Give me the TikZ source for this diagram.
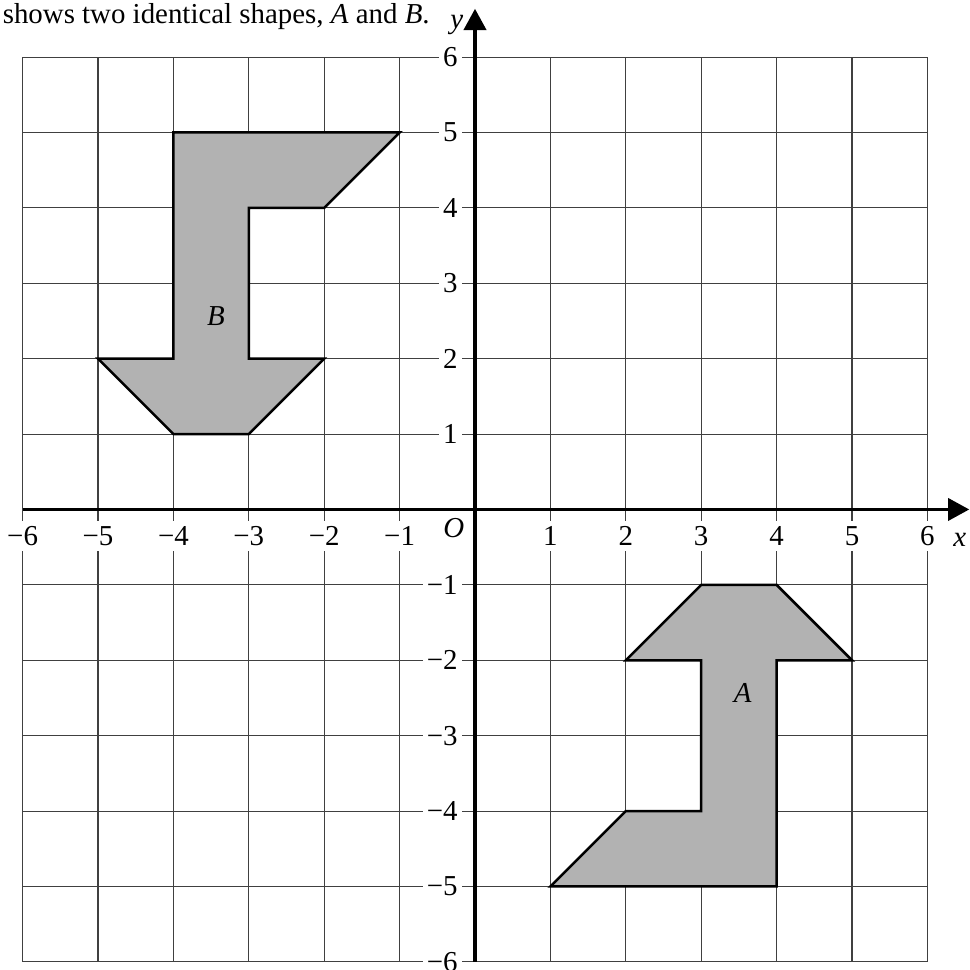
\documentclass[tikz,border=0pt]{standalone}
\usepackage{fontspec}
\setmainfont{Liberation Serif}
\usetikzlibrary{arrows.meta}
\begin{document}
\begin{tikzpicture}[
  gridline/.style={draw=black!75, line width=0.42pt},
  axisline/.style={line width=1.2pt, -{Triangle[length=8pt,width=8.4pt]}},
  shapefill/.style={fill=black!30, draw=black, line width=0.95pt, line join=miter},
  ylab/.style={fill=white, anchor=east, inner xsep=1.5pt, inner ysep=1pt},
  xlab/.style={fill=white, inner xsep=1pt, inner ysep=2pt},
  every node/.style={font=\fontsize{10.9}{13}\selectfont}
]
\useasboundingbox (-6.30,-6.107) rectangle (6.565,6.757);

% grid
\draw[gridline] (-6,-6) grid (6,6);

% shapes
\draw[shapefill] (-4,5) -- (-1,5) -- (-2,4) -- (-3,4) -- (-3,2) -- (-2,2)
  -- (-3,1) -- (-4,1) -- (-5,2) -- (-4,2) -- cycle;
\draw[shapefill] (1,-5) -- (4,-5) -- (4,-2) -- (5,-2) -- (4,-1) -- (3,-1)
  -- (2,-2) -- (3,-2) -- (3,-4) -- (2,-4) -- cycle;
\node (labB) at (-3.435,2.56) {\textit{B}};
\node (labA) at (3.55,-2.43) {\textit{A}};

% axis labels
\foreach \v/\t/\n in {1/1/p1,2/2/p2,3/3/p3,4/4/p4,5/5/p5,6/6/p6,
  -1/−1/n1,-2/−2/n2,-3/−3/n3,-4/−4/n4,-5/−5/n5,-6/−6/n6}{
  \node[ylab] (y\n) at (-0.17,\v) {\t};
  \node[xlab] (x\n) at (\v,-0.35) {\t};
}
\node (origin) at (-0.28,-0.25) {\textit{O}};

% axes
\coordinate (xs) at (-6,0);
\coordinate (xe) at (6.555,0);
\coordinate (ys) at (0,-6);
\coordinate (ye) at (0,6.64);
\draw[axisline] (xs) -- (xe);
\draw[axisline] (ys) -- (ye);
\node (xlabel) at (6.43,-0.40) {\textit{x}};
\node[anchor=base] (ylabel) at (-0.24,6.38) {\textit{y}};

% title
\node[anchor=base west, inner sep=0pt] (title) at (-6.27,6.44)
  {shows two identical shapes, \textit{A} and \textit{B}.};
\end{tikzpicture}
\end{document}
